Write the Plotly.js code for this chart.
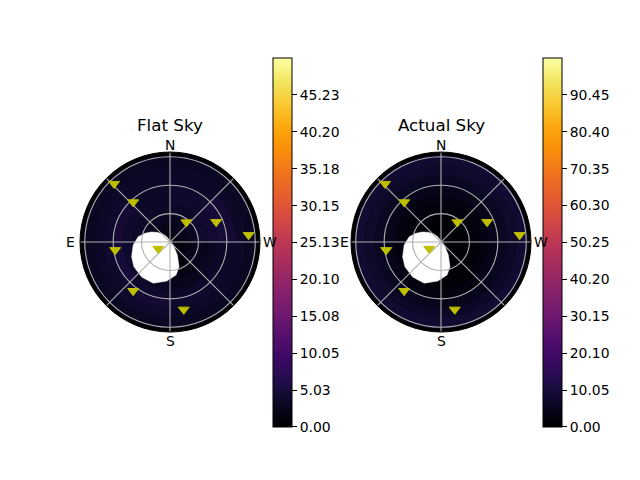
<!DOCTYPE html>
<html><head><meta charset="utf-8">
<script src="https://cdn.plot.ly/plotly-3.0.1.min.js"></script>
<style>html,body{margin:0;padding:0;background:#fff}</style>
</head><body><div id="chart" style="width:640px;height:480px"></div>
<script>
// ---------------- data ----------------
const ringEdges = [0, 10, 20, 30, 40, 50, 60, 70, 80, 91.5];
const sectorCenters = [22.5, 67.5, 112.5, 157.5, 202.5, 247.5, 292.5, 337.5];
const sectorWidth = 45;
// sky brightness per sector (rows) and ring (columns)
const flatSky = [
  [1.0, 2.0, 3.0, 3.5, 3.5, 3.5, 3.5, 3.5, 3.0],
  [1.0, 1.5, 2.5, 3.5, 4.0, 4.5, 4.0, 3.5, 3.0],
  [1.0, 1.0, 1.0, 2.0, 4.0, 5.0, 4.0, 3.5, 3.0],
  [1.0, 1.0, 1.0, 1.5, 3.0, 4.0, 4.5, 4.0, 3.0],
  [1.0, 1.0, 1.0, 1.5, 2.5, 3.5, 4.0, 3.5, 3.0],
  [1.0, 1.5, 2.0, 2.5, 3.0, 3.5, 3.5, 3.5, 3.0],
  [1.5, 2.0, 3.0, 4.0, 4.5, 5.0, 4.5, 3.5, 3.0],
  [1.5, 2.5, 3.0, 3.5, 4.0, 4.0, 3.5, 3.5, 3.0]
];
const actualSky = [
  [0.5, 0.5, 1.0, 2.0, 3.0, 4.5, 6.0, 7.5, 8.5],
  [0.5, 0.5, 1.0, 2.0, 3.0, 4.5, 6.0, 7.5, 8.5],
  [0.5, 0.5, 0.5, 1.0, 2.5, 4.0, 6.0, 7.5, 8.5],
  [0.5, 0.5, 0.5, 0.5, 1.5, 3.0, 5.0, 7.0, 8.5],
  [0.5, 0.5, 0.5, 0.5, 1.0, 2.5, 4.5, 7.0, 8.5],
  [0.5, 0.5, 1.0, 1.5, 2.5, 4.0, 5.5, 7.0, 8.5],
  [0.5, 0.5, 1.0, 2.0, 3.0, 4.5, 6.0, 7.5, 8.5],
  [0.5, 0.5, 1.0, 2.0, 3.0, 4.5, 6.0, 7.5, 8.5]
];
const flatMax = 50.26;
const actualMax = 100.5;
const flatTicks = [0, 5.03, 10.05, 15.08, 20.10, 25.13, 30.15, 35.18, 40.20, 45.23];
const actualTicks = [0, 10.05, 20.10, 30.15, 40.20, 50.25, 60.30, 70.35, 80.40, 90.45];
// star positions (zenith distance, azimuth N=0 through E=90)
const starR = [85.2, 57.2, 27.1, 53.1, 83.3, 58.5, 14.3, 64.6, 72.7];
const starTheta = [43.8, 42.7, 320.4, 293.5, 275.1, 98.3, 119.8, 143.0, 191.5];
// masked region around the sun (boundary)
const maskR = [28.0, 22.5, 17.4, 11.5, 6.6, 4.7, 15.8, 27.8, 35.5, 41.4, 46.9, 47.6, 46.2, 43.4, 39.0, 34.0];
const maskTheta = [70.8, 62.0, 53.9, 42.0, 31.9, 227.7, 209.3, 200.0, 190.3, 175.2, 157.8, 141.0, 124.5, 111.0, 94.7, 80.5];
const compassVals = [0, 45, 90, 135, 180, 225, 270, 315];
const compassLabels = ['N', 'E', 'S', 'W'];
const titles = ['Flat Sky', 'Actual Sky'];

// ---------------- inferno colour scale ----------------
const inferno = [
  [0.0, '#000004'], [0.0157, '#02010a'], [0.0314, '#040312'], [0.047, '#07051b'],
  [0.0627, '#0b0724'], [0.0784, '#10092d'], [0.094, '#150b37'], [0.125, '#210c4a'],
  [0.188, '#3d0965'], [0.25, '#57106e'], [0.3125, '#721a6e'], [0.375, '#89226a'],
  [0.4375, '#a52c60'], [0.5, '#bc3754'], [0.5625, '#d44842'], [0.625, '#e65d2f'],
  [0.6875, '#f1731d'], [0.75, '#f98e09'], [0.8125, '#fca80d'], [0.875, '#f9c932'],
  [0.9375, '#f2e661'], [1.0, '#fcffa4']
];

const FONT = 'DejaVu Sans, Liberation Sans, sans-serif';

function heatTrace(values, maxVal, ticks, subplot, cbX) {
  const th = [], base = [], rr = [], col = [];
  for (let s = 0; s < sectorCenters.length; s++) {
    for (let k = 0; k < ringEdges.length - 1; k++) {
      th.push(sectorCenters[s]);
      base.push(ringEdges[k]);
      rr.push(ringEdges[k + 1] - ringEdges[k]);
      col.push(values[s][k]);
    }
  }
  return {
    type: 'barpolar', subplot: subplot, theta: th, base: base, r: rr,
    width: th.map(() => sectorWidth),
    marker: {
      color: col, colorscale: inferno, cmin: 0, cmax: maxVal, showscale: true,
      line: {width: 0},
      colorbar: {
        x: cbX, xanchor: 'left', xpad: 0, ypad: 0,
        y: 0.4948, yanchor: 'middle', len: 369, lenmode: 'pixels', thickness: 19,
        outlinewidth: 1, outlinecolor: '#000',
        ticks: 'outside', ticklen: 5, tickwidth: 1, tickcolor: '#000',
        tickvals: ticks, ticktext: ticks.map(v => v.toFixed(2)),
        tickfont: {family: FONT, size: 13.9, color: '#000'}
      }
    },
    hoverinfo: 'skip'
  };
}
function maskTrace(subplot) {
  return {
    type: 'scatterpolar', subplot: subplot, mode: 'lines',
    r: maskR.concat([maskR[0]]), theta: maskTheta.concat([maskTheta[0]]),
    fill: 'toself', fillcolor: '#ffffff', line: {color: '#ffffff', width: 0.5},
    hoverinfo: 'skip'
  };
}
function starTrace(subplot) {
  return {
    type: 'scatterpolar', subplot: subplot, mode: 'markers',
    r: starR, theta: starTheta,
    marker: {symbol: 'triangle-down', size: 9.5, color: '#bfbf00', line: {color: '#bfbf00', width: 1}},
    hoverinfo: 'skip'
  };
}

const traces = [
  heatTrace(flatSky, flatMax, flatTicks, 'polar', 273 / 640),
  maskTrace('polar'),
  starTrace('polar2'),
  heatTrace(actualSky, actualMax, actualTicks, 'polar3', 543 / 640),
  maskTrace('polar3'),
  starTrace('polar4')
];

function dataPolar(dx) {
  return {
    domain: {x: dx, y: [0.3083, 0.6833]},
    bgcolor: '#000000',
    radialaxis: {range: [0, 95], visible: false},
    angularaxis: {rotation: 90, direction: 'counterclockwise', visible: false}
  };
}
function gridPolar(dx) {
  return {
    domain: {x: dx, y: [0.3083, 0.6833]},
    bgcolor: 'rgba(0,0,0,0)',
    radialaxis: {
      range: [0, 95], tickvals: [30, 60, 90], showticklabels: false, ticks: '',
      showline: false, showgrid: true, gridcolor: '#b0b0b0', gridwidth: 1.1
    },
    angularaxis: {
      rotation: 90, direction: 'counterclockwise', tickmode: 'array',
      tickvals: compassVals, showticklabels: false, ticks: '',
      showgrid: true, gridcolor: '#b0b0b0', gridwidth: 1.1,
      showline: true, linecolor: '#000', linewidth: 1
    }
  };
}
const leftX = [80 / 640, 260 / 640];
const rightX = [351 / 640, 531 / 640];
const centersPx = [170, 441];

// compass labels and titles placed around each sky circle (pixel offsets from circle centre)
const labelOffsets = [
  {N: [0, -97.5], E: [-99.4, 0], S: [0, 99], W: [99.5, 0]},
  {N: [0, -97.5], E: [-96.3, 0], S: [0, 99], W: [99.5, 0]}
];
const annotations = [];
centersPx.forEach((cx, i) => {
  const cy = 242;
  annotations.push({
    text: titles[i], x: cx / 640, y: 1 - 125 / 480, xref: 'paper', yref: 'paper',
    xanchor: 'center', yanchor: 'middle', showarrow: false,
    font: {family: FONT, size: 16.7, color: '#000'}
  });
  compassLabels.forEach(lab => {
    const o = labelOffsets[i][lab];
    annotations.push({
      text: lab, x: (cx + o[0]) / 640, y: 1 - (cy + o[1]) / 480,
      xref: 'paper', yref: 'paper', xanchor: 'center', yanchor: 'middle', showarrow: false,
      font: {family: FONT, size: 13.9, color: '#000'}
    });
  });
});

const layout = {
  width: 640, height: 480,
  margin: {l: 0, r: 0, t: 0, b: 0},
  paper_bgcolor: '#ffffff',
  showlegend: false,
  polar: dataPolar(leftX),
  polar2: gridPolar(leftX),
  polar3: dataPolar(rightX),
  polar4: gridPolar(rightX),
  annotations: annotations
};

Plotly.newPlot('chart', traces, layout, {staticPlot: true, displayModeBar: false});
</script>
</body></html>
